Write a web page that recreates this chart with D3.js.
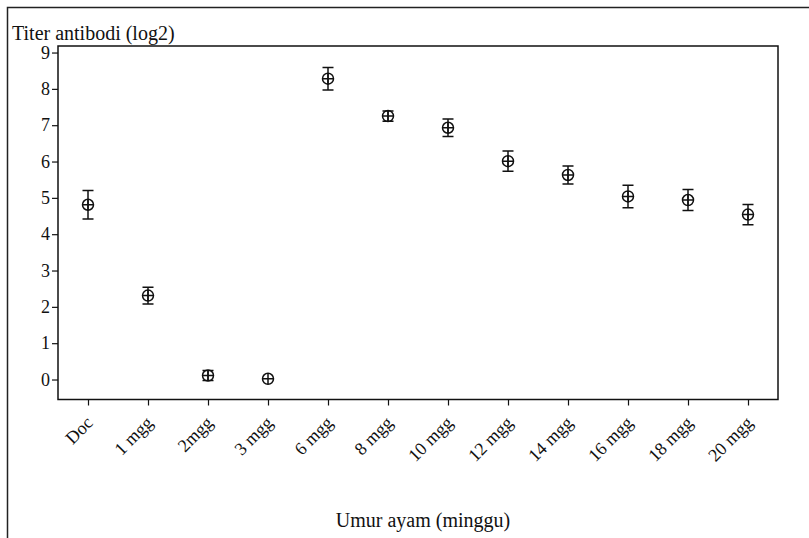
<!DOCTYPE html>
<html><head><meta charset="utf-8">
<script src="https://cdn.jsdelivr.net/npm/d3@7"></script>
<style>body{margin:0;background:#fff}svg{display:block}text{font-family:"Liberation Serif","Times New Roman",serif;fill:#111}</style>
</head><body><svg id="c" width="809" height="538"></svg>
<script>
const categories = ["Doc","1 mgg","2mgg","3 mgg","6 mgg","8 mgg","10 mgg","12 mgg","14 mgg","16 mgg","18 mgg","20 mgg"];
const means = [4.81, 2.31, 0.11, 0.02, 8.28, 7.25, 6.93, 6.01, 5.63, 5.04, 4.94, 4.54];
const errors = [0.39, 0.23, 0.14, 0.0, 0.31, 0.14, 0.24, 0.28, 0.25, 0.31, 0.29, 0.28];
const yTicks = [0,1,2,3,4,5,6,7,8,9];

const svg = d3.select("#c");
const m = {l:58, t:46, r:778, b:399.5};
// outer frame
svg.append("path").attr("d","M7.5,540V7.5H812").attr("fill","none").attr("stroke","#222").attr("stroke-width",1.5);

const x = d3.scalePoint().domain(categories).range([m.l, m.r]).padding(0.5);
const y = d3.scaleLinear().domain([-0.55, 9.18]).range([m.b, m.t]);

svg.append("rect").attr("x",m.l).attr("y",m.t).attr("width",m.r-m.l).attr("height",m.b-m.t)
  .attr("fill","none").attr("stroke","#111").attr("stroke-width",1.5);

const ya = svg.append("g").attr("transform",`translate(${m.l},0)`)
  .call(d3.axisLeft(y).tickValues(yTicks).tickSize(6).tickPadding(2).tickFormat(d3.format("d")));
ya.attr("font-family",null).attr("font-size",null);
ya.select(".domain").remove();
ya.selectAll("line").attr("stroke","#111").attr("stroke-width",1.2);
ya.selectAll("text").style("font-size","18px").attr("fill","#111");

const xa = svg.append("g").attr("transform",`translate(0,${m.b})`)
  .call(d3.axisBottom(x).tickSize(6).tickPadding(4));
xa.attr("font-family",null).attr("font-size",null);
xa.select(".domain").remove();
xa.selectAll("line").attr("stroke","#111").attr("stroke-width",1.2);
xa.selectAll("text").style("font-size","18px").attr("fill","#111")
  .attr("text-anchor","end").attr("y",0).attr("dy","0.35em").attr("transform","translate(1,20) rotate(-45)");

const g = svg.append("g").attr("stroke","#111").attr("fill","none").attr("stroke-width",1.5);
const data = categories.map((c,i)=>({c, v:means[i], e:errors[i]}));
const pts = g.selectAll("g.p").data(data).join("g").attr("class","p");
pts.filter(d=>d.e>0).append("path").attr("d", d=>{
  const cx=x(d.c), t=y(d.v+d.e), b=y(d.v-d.e), w=5.5;
  return `M${cx},${t}V${b}M${cx-w},${t}H${cx+w}M${cx-w},${b}H${cx+w}`;
});
pts.append("circle").attr("cx",d=>x(d.c)).attr("cy",d=>y(d.v)).attr("r",5.5);
pts.append("path").attr("d", d=>{
  const cx=x(d.c), cy=y(d.v), r=5.5;
  return `M${cx-r},${cy}H${cx+r}M${cx},${cy-r}V${cy+r}`;
});

svg.append("text").attr("x",12).attr("y",40).style("font-size","20px").text("Titer antibodi (log2)");
svg.append("text").attr("x",423).attr("y",527).attr("text-anchor","middle").style("font-size","20px").text("Umur ayam (minggu)");
</script></body></html>
